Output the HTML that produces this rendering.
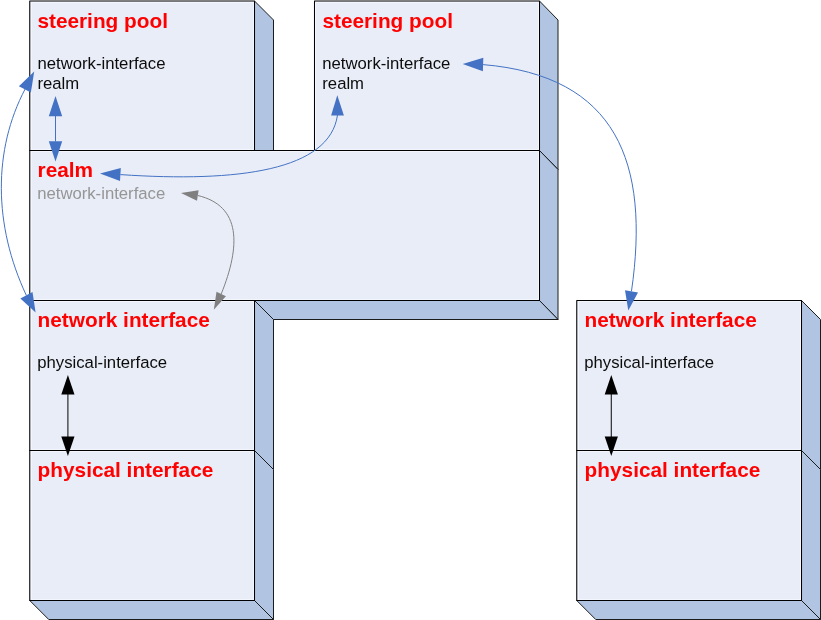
<!DOCTYPE html>
<html>
<head>
<meta charset="utf-8">
<title>steering pool diagram</title>
<style>
html,body{margin:0;padding:0;background:#fff;}
svg{display:block;}
text{font-family:"Liberation Sans",Arial,Helvetica,sans-serif;}
.h{font-size:20.8px;font-weight:bold;fill:#FF0000;}
.b{font-size:16.7px;fill:#0c0c0c;}
.g{font-size:16.7px;fill:#969696;}
</style>
</head>
<body>
<svg width="821" height="620" viewBox="0 0 821 620">
<rect x="0" y="0" width="821" height="620" fill="#fff"/>
<g stroke="#000" stroke-width="1.2" stroke-linejoin="round">
<polygon points="254.5,1.0 273.5,20.0 273.5,169.5 254.5,150.5" fill="#B1C5E2" stroke="#1c1c1c" stroke-width="1"/>
<polygon points="29.75,150.5 254.5,150.5 273.5,169.5 48.75,169.5" fill="#B1C5E2" stroke="#1c1c1c" stroke-width="1"/>
<rect x="29.75" y="1.0" width="224.75" height="149.5" fill="#E9EDF7" stroke-width="1.05"/>
<rect x="31.5" y="2.5" width="222.0" height="147.0" fill="none" stroke="#F3F6FC" stroke-width="1"/>
<polygon points="539.5,1.0 558.0,20.0 558.0,169.5 539.5,150.5" fill="#B1C5E2" stroke="#1c1c1c" stroke-width="1"/>
<polygon points="314.5,150.5 539.5,150.5 558.0,169.5 333.5,169.5" fill="#B1C5E2" stroke="#1c1c1c" stroke-width="1"/>
<rect x="314.5" y="1.0" width="225.0" height="149.5" fill="#E9EDF7" stroke-width="1.05"/>
<rect x="315.5" y="2.5" width="223.0" height="147.0" fill="none" stroke="#F3F6FC" stroke-width="1"/>
<polygon points="539.5,150.5 558.0,169.5 558.0,319.5 539.5,300.5" fill="#B1C5E2" stroke="#1c1c1c" stroke-width="1"/>
<polygon points="29.75,300.5 539.5,300.5 558.0,319.5 48.75,319.5" fill="#B1C5E2" stroke="#1c1c1c" stroke-width="1"/>
<rect x="29.75" y="150.5" width="509.75" height="150.0" fill="#E9EDF7" stroke-width="1.05"/>
<rect x="31.5" y="151.5" width="507.0" height="148.0" fill="none" stroke="#F3F6FC" stroke-width="1"/>
<polygon points="254.5,300.5 273.5,319.5 273.5,469.5 254.5,450.5" fill="#B1C5E2" stroke="#1c1c1c" stroke-width="1"/>
<polygon points="29.75,450.5 254.5,450.5 273.5,469.5 48.75,469.5" fill="#B1C5E2" stroke="#1c1c1c" stroke-width="1"/>
<rect x="29.75" y="300.5" width="224.75" height="150.0" fill="#E9EDF7" stroke-width="1.05"/>
<rect x="31.5" y="301.5" width="222.0" height="148.0" fill="none" stroke="#F3F6FC" stroke-width="1"/>
<polygon points="254.5,450.5 273.5,469.5 273.5,619.5 254.5,600.5" fill="#B1C5E2" stroke="#1c1c1c" stroke-width="1"/>
<polygon points="29.75,600.5 254.5,600.5 273.5,619.5 48.75,619.5" fill="#B1C5E2" stroke="#1c1c1c" stroke-width="1"/>
<rect x="29.75" y="450.5" width="224.75" height="150.0" fill="#E9EDF7" stroke-width="1.05"/>
<rect x="31.5" y="451.5" width="222.0" height="148.0" fill="none" stroke="#F3F6FC" stroke-width="1"/>
<polygon points="801.5,300.5 820.5,319.5 820.5,469.5 801.5,450.5" fill="#B1C5E2" stroke="#1c1c1c" stroke-width="1"/>
<polygon points="576.75,450.5 801.5,450.5 820.5,469.5 595.75,469.5" fill="#B1C5E2" stroke="#1c1c1c" stroke-width="1"/>
<rect x="576.75" y="300.5" width="224.75" height="150.0" fill="#E9EDF7" stroke-width="1.05"/>
<rect x="578.5" y="301.5" width="222.0" height="148.0" fill="none" stroke="#F3F6FC" stroke-width="1"/>
<polygon points="801.5,450.5 820.5,469.5 820.5,619.5 801.5,600.5" fill="#B1C5E2" stroke="#1c1c1c" stroke-width="1"/>
<polygon points="576.75,600.5 801.5,600.5 820.5,619.5 595.75,619.5" fill="#B1C5E2" stroke="#1c1c1c" stroke-width="1"/>
<rect x="576.75" y="450.5" width="224.75" height="150.0" fill="#E9EDF7" stroke-width="1.05"/>
<rect x="578.5" y="451.5" width="222.0" height="148.0" fill="none" stroke="#F3F6FC" stroke-width="1"/>
</g>
<g style="will-change:opacity;opacity:0.999">
<text x="37.4" y="27.7" class="h">steering pool</text>
<text x="37.5" y="68.6" class="b">network-interface</text>
<text x="37.5" y="88.7" class="b">realm</text>
<text x="322.4" y="27.7" class="h">steering pool</text>
<text x="322.3" y="68.6" class="b">network-interface</text>
<text x="322.3" y="88.7" class="b">realm</text>
<text x="37.6" y="177.0" class="h">realm</text>
<text x="37.2" y="198.6" class="g">network-interface</text>
<text x="37.6" y="327.2" class="h">network interface</text>
<text x="37.3" y="368.1" class="b">physical-interface</text>
<text x="37.6" y="477.2" class="h">physical interface</text>
<text x="584.6" y="327.2" class="h">network interface</text>
<text x="584.3" y="368.1" class="b">physical-interface</text>
<text x="584.6" y="477.2" class="h">physical interface</text>
</g>
<path d="M55.5,116 L55.5,141.5" fill="none" stroke="#4372C4" stroke-width="1.0"/>
<polygon points="55.5,96.1 62.2,116.2 48.8,116.2" fill="#4372C4"/>
<polygon points="55.5,161.4 48.8,141.2 62.2,141.2" fill="#4372C4"/>
<path d="M25.2,88.9 C-6.95,149.7 -6.7,225.1 26.4,295.5" fill="none" stroke="#4372C4" stroke-width="1.0"/>
<polygon points="34.2,71.4 30.9,92.4 18.9,86.2" fill="#4372C4"/>
<polygon points="35.6,312.6 20.4,298.4 32.5,292.0" fill="#4372C4"/>
<path d="M337.5,115 C329.75,170.5 238.5,182.6 120.4,174.6" fill="none" stroke="#4372C4" stroke-width="1.0"/>
<polygon points="337.3,95.3 343.9,115.4 331.1,115.6" fill="#4372C4"/>
<polygon points="100.0,173.5 120.8,168.1 120.0,181.1" fill="#4372C4"/>
<path d="M483.1,64.6 C616.6,75.8 650.15,162.5 631.45,291.4" fill="none" stroke="#4372C4" stroke-width="1.0"/>
<polygon points="462.7,63.9 483.3,57.8 482.9,71.2" fill="#4372C4"/>
<polygon points="628.3,310.6 625.0,290.2 638.0,292.4" fill="#4372C4"/>
<path d="M197.8,195.5 C241.3,205.9 240.7,245.8 221.2,294" fill="none" stroke="#808080" stroke-width="1.0"/>
<polygon points="181.0,192.9 198.6,190.2 197.0,200.8" fill="#808080"/>
<polygon points="213.8,309.7 216.5,291.8 225.9,296.3" fill="#808080"/>
<path d="M67.9,394 L67.9,437" fill="none" stroke="#1a1a1a" stroke-width="1.1"/>
<polygon points="67.9,375.1 74.5,394.6 61.3,394.6" fill="#000"/>
<polygon points="67.9,456.1 61.3,436.5 74.5,436.5" fill="#000"/>
<path d="M611.3,394 L611.3,437" fill="none" stroke="#1a1a1a" stroke-width="1.1"/>
<polygon points="611.3,375.1 617.9,394.6 604.7,394.6" fill="#000"/>
<polygon points="611.3,456.1 604.7,436.5 617.9,436.5" fill="#000"/>
</svg>
</body>
</html>
